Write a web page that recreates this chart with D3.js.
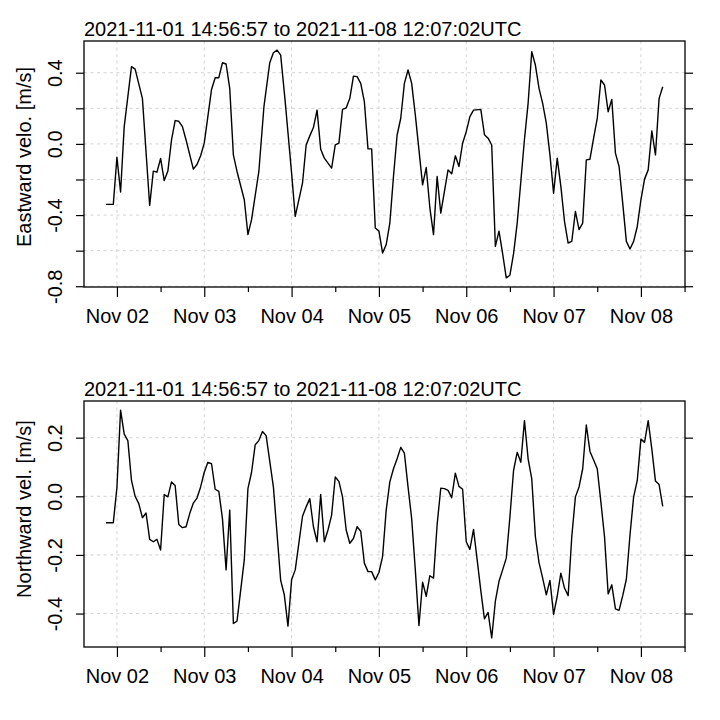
<!DOCTYPE html>
<html>
<head>
<meta charset="utf-8">
<script src="https://cdn.jsdelivr.net/npm/d3@7"></script>
<style>
  html, body { margin: 0; padding: 0; background: #fff; }
  svg { display: block; }
  text { font-family: "Liberation Sans", Arial, Helvetica, sans-serif; fill: #000; }
</style>
</head>
<body>
<svg id="chart" width="720" height="720"></svg>
<script>
// ---------------- data (hours after 2021-11-02 00:00 UTC) ----------------
const titleText = "2021-11-01 14:56:57 to 2021-11-08 12:07:02UTC";
const rangeStart = "2021-11-01T14:56:57Z";
const rangeEnd = "2021-11-08T12:07:02Z";
const refTime = "2021-11-02T00:00:00Z";

const eastHours = [-3,-1,0,1,2,4,5,7,9,10,11,12,13,14,15,16,17,18,19,21,22,23,24,26,27,28,29,30,31,32,33,35,36,37,39,40.4,42,43,44,45,46.2,48,49,51,52,53,54,55,56,57,59,60,61,62,63,64,65,66,67,68,69,70,71,72,73,74,75,76,77,78,79,80,81,82,84,85,86,87,88,89,91,92,93,94,95,96,97,98,100,101,102,103,104,105,106,107,108,109,110,111,112,113,114,115,116,117,118,119,120,121,122,123,124,125,126,127,128,129,130,131,132,133,134,135,136,137,138,139,140,141,142,143,144,145,146,147,148,149,150];
const eastVel = [-0.34,-0.34,-0.075,-0.27,0.097,0.434,0.42,0.256,-0.346,-0.153,-0.159,-0.082,-0.206,-0.153,0.022,0.131,0.127,0.097,0.022,-0.142,-0.116,-0.067,0.004,0.306,0.372,0.372,0.456,0.449,0.312,-0.062,-0.155,-0.314,-0.51,-0.426,-0.155,0.209,0.456,0.512,0.527,0.499,0.247,-0.164,-0.407,-0.22,-0.006,0.045,0.092,0.19,-0.03,-0.08,-0.136,-0.006,0.004,0.194,0.202,0.256,0.381,0.378,0.34,0.237,-0.028,-0.028,-0.473,-0.49,-0.613,-0.566,-0.445,-0.183,0.05,0.144,0.34,0.415,0.34,0.163,-0.23,-0.133,-0.36,-0.51,-0.183,-0.389,-0.146,-0.168,-0.067,-0.127,0.004,0.069,0.153,0.19,0.194,0.052,0.032,-0.006,-0.576,-0.49,-0.617,-0.753,-0.738,-0.617,-0.445,-0.211,0.026,0.228,0.518,0.443,0.312,0.228,0.116,-0.062,-0.277,-0.08,-0.239,-0.435,-0.557,-0.548,-0.379,-0.482,-0.445,-0.09,-0.086,0.032,0.144,0.359,0.331,0.181,0.25,-0.052,-0.127,-0.333,-0.548,-0.591,-0.548,-0.464,-0.314,-0.198,-0.146,0.073,-0.062,0.256,0.321];

const northHours = [-3,-1,0,1,2,3,4,5,6,7,8,9,10,11,12,13,14,15,16,17,18,19,20,21,22,23,24,25,26,27,28,29,30,31,32,33,35,36,37,38,39,40,41,43,45,46,47,48,49,50,51,52,53,54,55,56,57,58,59,60,61,62,63,64,65,66,67,68,69,70,71,72,73,74,75,76,77,78,79,80,81,82,83,84,85,86,87,88,89,90,91,92,93,94,95,96,97,98,99,100,101,102,103,104,105,106,107,108,109,110,111,112,113,114,115,116,117,118,119,120,121,122,123,124,125,126,127,128,129,130,131,132,133,134,135,136,137,138,139,140,141,142,143,144,145,146,147,148,149,150];
const northVel = [-0.09,-0.09,0.03,0.294,0.212,0.19,0.054,0.0,-0.025,-0.073,-0.057,-0.147,-0.155,-0.147,-0.183,0.006,-0.002,0.049,0.037,-0.096,-0.107,-0.104,-0.059,-0.023,-0.006,0.032,0.082,0.116,0.111,0.024,0.017,-0.076,-0.251,-0.047,-0.434,-0.426,-0.217,0.026,0.082,0.176,0.19,0.221,0.207,0.032,-0.287,-0.336,-0.443,-0.285,-0.251,-0.16,-0.068,-0.036,-0.008,-0.104,-0.155,0.006,-0.155,-0.115,-0.064,0.066,0.051,-0.002,-0.115,-0.16,-0.144,-0.104,-0.119,-0.228,-0.257,-0.257,-0.285,-0.26,-0.206,-0.047,0.049,0.094,0.128,0.167,0.147,0.032,-0.076,-0.251,-0.441,-0.293,-0.341,-0.271,-0.279,-0.096,0.028,0.026,0.02,-0.005,0.079,0.034,0.024,-0.155,-0.181,-0.113,-0.217,-0.322,-0.418,-0.396,-0.483,-0.358,-0.29,-0.251,-0.211,-0.07,0.088,0.15,0.116,0.258,0.128,0.06,-0.138,-0.226,-0.279,-0.336,-0.287,-0.403,-0.341,-0.262,-0.313,-0.339,-0.138,-0.002,0.032,0.094,0.243,0.153,0.124,0.094,-0.019,-0.138,-0.333,-0.302,-0.384,-0.389,-0.339,-0.283,-0.132,-0.002,0.054,0.195,0.184,0.258,0.161,0.052,0.04,-0.034];

const eastTicks = [-0.8,-0.6,-0.4,-0.2,0.0,0.2,0.4];
const eastTickLabels = ["-0.8","","-0.4","","0.0","","0.4"];
const northTicks = [-0.4,-0.2,0.0,0.2];
const northTickLabels = ["-0.4","-0.2","0.0","0.2"];
const dayTickLabels = ["Nov 02","Nov 03","Nov 04","Nov 05","Nov 06","Nov 07","Nov 08"];

const panels = [
  { hours: eastHours, values: eastVel, ticks: eastTicks, tickLabels: eastTickLabels,
    ylab: "Eastward velo. [m/s]", top: 41, bottom: 287, ylabY: 157 },
  { hours: northHours, values: northVel, ticks: northTicks, tickLabels: northTickLabels,
    ylab: "Northward vel. [m/s]", top: 401, bottom: 647, ylabY: 509 }
];

// ---------------- drawing ----------------
const svg = d3.select("#chart");
const left = 84, right = 685;
const FS = 20;
const ref = new Date(refTime).getTime();
const toDate = h => new Date(ref + h * 3600e3);

const x = d3.scaleUtc().domain([new Date(rangeStart), new Date(rangeEnd)]).range([left, right]);
const majorDays = dayTickLabels.map((_, i) => toDate(24 * i));
const minorDays = dayTickLabels.map((_, i) => toDate(24 * i + 12));

panels.forEach(p => {
  const g = svg.append("g");
  const ext = d3.extent(p.values);
  const pad = (ext[1] - ext[0]) * 0.04;
  const y = d3.scaleLinear().domain([ext[0] - pad, ext[1] + pad]).range([p.bottom, p.top]);

  // grid
  const grid = g.append("g").attr("stroke", "#d3d3d3").attr("stroke-width", 1)
    .attr("stroke-dasharray", "3,3.5").attr("fill", "none");
  p.ticks.forEach(t => grid.append("line")
    .attr("x1", left).attr("x2", right).attr("y1", y(t)).attr("y2", y(t)));
  majorDays.forEach(d => grid.append("line")
    .attr("x1", x(d)).attr("x2", x(d)).attr("y1", p.top).attr("y2", p.bottom));

  // data line
  const pts = p.hours.map((h, i) => [toDate(h), p.values[i]]);
  g.append("path").datum(pts)
    .attr("fill", "none").attr("stroke", "#000").attr("stroke-width", 1.4)
    .attr("stroke-linejoin", "round")
    .attr("d", d3.line().x(d => x(d[0])).y(d => y(d[1])));

  // box
  g.append("rect").attr("x", left).attr("y", p.top)
    .attr("width", right - left).attr("height", p.bottom - p.top)
    .attr("fill", "none").attr("stroke", "#000").attr("stroke-width", 1.3);

  // left axis
  const ay = g.append("g").attr("transform", `translate(${left},0)`)
    .call(d3.axisLeft(y).tickValues(p.ticks).tickSize(8)
      .tickFormat((d, i) => p.tickLabels[i]));
  ay.select(".domain").remove();
  ay.selectAll("line").attr("stroke", "#000").attr("stroke-width", 1.2);
  ay.selectAll("text").attr("x", null).attr("dy", null)
    .attr("text-anchor", "middle").attr("font-size", FS)
    .attr("font-family", "Liberation Sans, Arial, sans-serif")
    .attr("transform", "translate(-22,0) rotate(-90)");

  // right axis ticks
  const ar = g.append("g").attr("transform", `translate(${right},0)`)
    .call(d3.axisRight(y).tickValues(p.ticks).tickSize(8).tickFormat(""));
  ar.select(".domain").remove();
  ar.selectAll("line").attr("stroke", "#000").attr("stroke-width", 1.2);

  // bottom axis (major)
  const ax = g.append("g").attr("transform", `translate(0,${p.bottom})`)
    .call(d3.axisBottom(x).tickValues(majorDays).tickSize(10)
      .tickFormat((d, i) => dayTickLabels[i]));
  ax.select(".domain").remove();
  ax.selectAll("line").attr("stroke", "#000").attr("stroke-width", 1.2);
  ax.selectAll("text").attr("y", 36).attr("dy", null).attr("font-size", FS)
    .attr("font-family", "Liberation Sans, Arial, sans-serif");

  // bottom axis (minor)
  const am = g.append("g").attr("transform", `translate(0,${p.bottom})`)
    .call(d3.axisBottom(x).tickValues(minorDays).tickSize(5).tickFormat(""));
  am.select(".domain").remove();
  am.selectAll("line").attr("stroke", "#000").attr("stroke-width", 1.2);

  // title
  g.append("text").attr("x", left).attr("y", p.top - 5)
    .attr("font-size", FS).text(titleText);

  // y label
  g.append("text").attr("transform", `translate(31,${p.ylabY}) rotate(-90)`)
    .attr("text-anchor", "middle").attr("font-size", FS).text(p.ylab);
});
</script>
</body>
</html>
